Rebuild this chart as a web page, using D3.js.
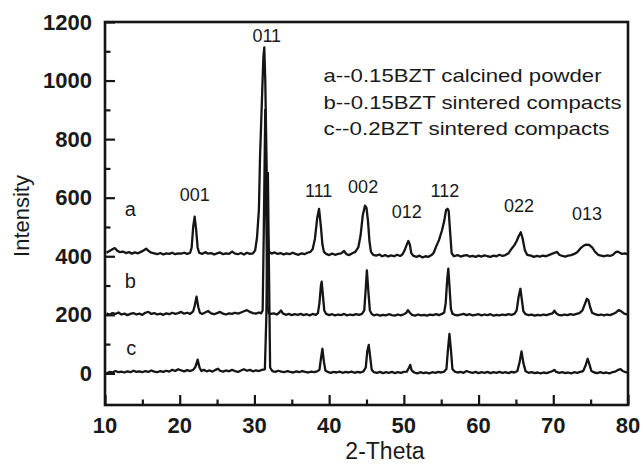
<!DOCTYPE html>
<html>
<head>
<meta charset="utf-8">
<script src="https://cdn.jsdelivr.net/npm/d3@7/dist/d3.min.js"></script>
<style>
  html, body { margin: 0; padding: 0; background: #fff; }
  svg { display: block; }
  text { font-family: "Liberation Sans", Arial, Helvetica, sans-serif; fill: #1a1a1a; }
</style>
</head>
<body>
<svg id="chart" width="643" height="465"></svg>
<script>
// ---------- data ----------
const xTicksMajor = [10, 20, 30, 40, 50, 60, 70, 80];
const xTicksMinor = [15, 25, 35, 45, 55, 65, 75];
const yTicksMajor = [0, 200, 400, 600, 800, 1000, 1200];
const yTicksMinor = [100, 300, 500, 700, 900, 1100];

// curve a: 0.15BZT calcined powder  [2-theta, intensity]
const seriesA = [[10.2,412],[10.6,418],[11.0,424],[11.3,428],[11.6,420],[12.0,414],[12.4,416],[12.8,411],[13.2,414],[13.6,409],[14.0,413],[14.4,410],[14.8,415],[15.2,420],[15.5,426],[15.8,419],[16.2,412],[16.6,410],[17.0,407],[17.4,411],[17.8,406],[18.2,410],[18.6,408],[19.0,412],[19.4,407],[19.8,410],[20.2,409],[20.6,412],[21.0,408],[21.4,412],[21.6,430],[21.8,500],[22.0,535],[22.2,490],[22.4,430],[22.6,412],[23.0,408],[23.4,414],[23.8,409],[24.2,411],[24.6,406],[25.0,410],[25.4,413],[25.8,407],[26.2,410],[26.6,408],[27.0,416],[27.4,409],[27.8,407],[28.2,411],[28.6,406],[29.0,412],[29.4,408],[29.8,410],[30.1,420],[30.35,465],[30.6,560],[30.75,740],[31.0,930],[31.2,1080],[31.32,1113],[31.45,1000],[31.6,760],[31.75,500],[31.9,415],[32.3,409],[32.7,413],[33.1,408],[33.5,411],[33.9,406],[34.3,410],[34.7,407],[35.1,412],[35.5,408],[35.9,405],[36.3,410],[36.7,407],[37.1,412],[37.5,415],[37.8,425],[38.1,460],[38.4,530],[38.65,562],[38.9,500],[39.1,440],[39.3,415],[39.6,408],[40.0,404],[40.4,409],[40.8,405],[41.2,408],[41.6,410],[42.0,418],[42.3,407],[42.7,404],[43.1,410],[43.5,415],[43.9,430],[44.2,470],[44.5,540],[44.8,573],[45.0,565],[45.2,520],[45.4,450],[45.6,415],[45.9,405],[46.3,402],[46.7,406],[47.1,400],[47.5,404],[47.9,399],[48.3,403],[48.7,400],[49.1,405],[49.5,401],[49.8,406],[50.1,420],[50.35,437],[50.6,452],[50.8,440],[51.0,410],[51.3,401],[51.7,398],[52.1,402],[52.5,396],[52.9,400],[53.3,398],[53.7,404],[54.0,412],[54.3,432],[54.7,455],[55.1,488],[55.4,520],[55.65,558],[55.85,562],[56.0,555],[56.2,480],[56.4,410],[56.7,400],[57.2,404],[57.6,399],[58.0,402],[58.4,404],[58.8,399],[59.2,401],[59.6,398],[60.0,402],[60.4,399],[60.8,403],[61.2,400],[61.6,398],[62.0,402],[62.4,400],[62.8,405],[63.2,401],[63.6,404],[64.0,410],[64.4,425],[64.8,438],[65.1,452],[65.4,470],[65.65,482],[65.9,460],[66.2,420],[66.5,405],[67.0,402],[67.4,398],[67.8,401],[68.2,399],[68.6,402],[69.0,400],[69.4,404],[69.8,408],[70.2,412],[70.5,415],[70.8,405],[71.2,401],[71.6,399],[72.0,402],[72.4,404],[72.8,408],[73.2,414],[73.6,426],[74.0,435],[74.4,440],[74.8,439],[75.2,430],[75.6,415],[76.0,405],[76.4,402],[76.8,400],[77.2,403],[77.6,401],[78.0,405],[78.3,413],[78.6,416],[78.9,412],[79.2,408],[79.6,410],[80.0,406]];

// curve b: 0.15BZT sintered compacts
const seriesB = [[10.2,205],[10.6,200],[11.0,206],[11.4,203],[11.8,208],[12.2,201],[12.6,204],[13.0,199],[13.4,203],[13.8,206],[14.2,201],[14.6,204],[15.0,200],[15.4,207],[15.8,210],[16.2,203],[16.6,206],[17.0,201],[17.4,204],[17.8,200],[18.2,205],[18.6,202],[19.0,207],[19.4,203],[19.8,206],[20.2,210],[20.6,204],[21.0,207],[21.4,203],[21.8,212],[22.0,230],[22.25,262],[22.5,225],[22.7,207],[23.0,203],[23.4,208],[23.8,213],[24.2,205],[24.6,202],[25.0,206],[25.4,210],[25.8,204],[26.2,201],[26.6,205],[27.0,203],[27.4,207],[27.8,204],[28.2,208],[28.6,212],[29.0,216],[29.4,210],[29.8,206],[30.2,204],[30.6,208],[30.9,205],[31.1,215],[31.25,480],[31.45,900],[31.6,520],[31.75,230],[31.9,206],[32.2,203],[32.6,205],[33.0,201],[33.3,207],[33.55,215],[33.8,205],[34.2,200],[34.6,203],[35.0,199],[35.4,202],[35.8,200],[36.2,203],[36.6,199],[37.0,202],[37.4,198],[37.8,203],[38.2,200],[38.5,206],[38.7,240],[38.9,300],[39.0,313],[39.15,270],[39.35,215],[39.6,203],[40.0,199],[40.4,202],[40.8,198],[41.2,201],[41.6,199],[42.0,203],[42.4,198],[42.8,201],[43.2,199],[43.6,202],[44.0,200],[44.4,203],[44.7,215],[44.9,290],[45.05,352],[45.25,280],[45.45,215],[45.7,203],[46.0,198],[46.4,201],[46.8,197],[47.2,200],[47.6,198],[48.0,202],[48.4,199],[48.8,197],[49.2,201],[49.6,198],[50.0,202],[50.3,206],[50.55,216],[50.8,207],[51.1,200],[51.5,197],[51.9,201],[52.3,198],[52.7,200],[53.1,197],[53.5,201],[53.9,199],[54.3,202],[54.7,199],[55.1,203],[55.4,208],[55.6,240],[55.8,320],[55.95,358],[56.1,300],[56.3,220],[56.5,204],[56.8,200],[57.2,198],[57.6,201],[58.0,203],[58.4,199],[58.8,202],[59.2,198],[59.6,200],[60.0,202],[60.4,198],[60.8,201],[61.2,199],[61.6,202],[62.0,197],[62.4,200],[62.8,198],[63.2,201],[63.6,199],[64.0,202],[64.4,200],[64.8,203],[65.1,215],[65.35,260],[65.6,289],[65.8,250],[66.0,212],[66.3,202],[66.7,199],[67.1,201],[67.5,197],[67.9,200],[68.3,198],[68.7,201],[69.1,199],[69.5,202],[69.9,205],[70.15,214],[70.4,205],[70.7,200],[71.1,198],[71.5,201],[71.9,199],[72.3,202],[72.7,200],[73.1,203],[73.5,206],[73.9,215],[74.2,235],[74.5,255],[74.7,250],[74.95,225],[75.2,207],[75.6,202],[76.0,199],[76.4,201],[76.8,198],[77.2,201],[77.6,199],[78.0,203],[78.4,208],[78.75,216],[79.1,212],[79.5,204],[80.0,201]];

// curve c: 0.2BZT sintered compacts
const seriesC = [[10.2,0],[10.6,5],[11.0,3],[11.4,8],[11.8,4],[12.2,6],[12.6,3],[13.0,7],[13.4,4],[13.8,9],[14.2,5],[14.6,7],[15.0,4],[15.4,8],[15.8,5],[16.2,10],[16.6,6],[17.0,4],[17.4,8],[17.8,5],[18.2,9],[18.6,6],[19.0,12],[19.4,8],[19.8,14],[20.2,10],[20.6,7],[21.0,11],[21.4,8],[21.8,12],[22.1,22],[22.4,47],[22.65,20],[22.9,8],[23.2,12],[23.6,7],[24.0,10],[24.4,6],[24.8,12],[25.1,16],[25.4,9],[25.8,6],[26.2,10],[26.6,7],[27.0,12],[27.4,8],[27.8,5],[28.2,10],[28.6,14],[29.0,9],[29.4,12],[29.8,7],[30.2,10],[30.6,8],[31.0,12],[31.4,14],[31.6,200],[31.8,685],[31.95,350],[32.1,20],[32.4,8],[32.8,5],[33.2,9],[33.6,6],[34.0,4],[34.4,8],[34.8,5],[35.2,3],[35.6,7],[36.0,4],[36.4,8],[36.8,5],[37.2,3],[37.6,6],[38.0,4],[38.4,7],[38.7,12],[38.9,50],[39.1,84],[39.3,40],[39.5,10],[39.8,5],[40.2,2],[40.6,5],[41.0,3],[41.4,6],[41.8,2],[42.2,5],[42.6,3],[43.0,6],[43.4,2],[43.8,5],[44.2,3],[44.6,7],[44.9,20],[45.1,75],[45.3,97],[45.5,55],[45.7,12],[46.0,4],[46.4,2],[46.8,5],[47.2,1],[47.6,4],[48.0,2],[48.4,5],[48.8,1],[49.2,4],[49.6,2],[50.0,5],[50.4,6],[50.7,20],[50.85,29],[51.05,10],[51.4,3],[51.8,0],[52.2,4],[52.6,1],[53.0,3],[53.4,0],[53.8,4],[54.2,2],[54.6,5],[55.0,3],[55.4,6],[55.7,15],[55.9,80],[56.1,135],[56.3,80],[56.5,15],[56.8,6],[57.2,3],[57.6,5],[58.0,2],[58.4,8],[58.8,4],[59.2,2],[59.6,5],[60.0,1],[60.4,4],[60.8,2],[61.2,5],[61.6,1],[62.0,4],[62.4,2],[62.8,5],[63.2,2],[63.6,4],[64.0,1],[64.4,5],[64.8,3],[65.2,8],[65.5,40],[65.75,75],[66.0,35],[66.3,7],[66.7,2],[67.1,4],[67.5,1],[67.9,3],[68.3,0],[68.7,3],[69.1,1],[69.5,4],[69.9,8],[70.15,12],[70.4,5],[70.8,2],[71.2,4],[71.6,1],[72.0,3],[72.4,0],[72.8,4],[73.2,2],[73.6,5],[74.0,8],[74.3,25],[74.6,50],[74.85,30],[75.1,8],[75.5,3],[75.9,1],[76.3,4],[76.7,1],[77.1,3],[77.5,0],[77.9,4],[78.3,6],[78.7,12],[79.0,15],[79.3,8],[79.7,4],[80.0,2]];

// peak (hkl) labels, anchored in data units [2-theta, intensity]
const peakLabels = ["001", "011", "111", "002", "012", "112", "022", "013"];
const peakLabelTheta = [22.0, 31.65, 38.6, 44.55, 50.4, 55.5, 65.4, 74.5];
const peakLabelInt = [590, 1131, 602, 617, 530, 603, 552, 524];

// curve letters
const curveLetters = ["a", "b", "c"];
const curveLetterTheta = [13.4, 13.4, 13.5];
const curveLetterInt = [539, 291, 63];

// legend lines
const legendLines = ["a--0.15BZT calcined powder", "b--0.15BZT sintered compacts", "c--0.2BZT sintered compacts"];
const legendTheta = 39.25;
const legendInt = [996, 903, 814];

const xLabel = "2-Theta";
const yLabel = "Intensity";

// ---------- layout ----------
const W = 643, H = 465;
const L = 105, R = 628, T = 22, B = 405;
const ink = "#151515";

const svg = d3.select("#chart");
const x = d3.scaleLinear().domain([10, 80]).range([L, R]);
const y = d3.scaleLinear().domain([-108, 1200]).range([B, T]);

// curves
const line = d3.line().x(d => x(d[0])).y(d => y(d[1])).curve(d3.curveLinear);
[seriesC, seriesB, seriesA].forEach(s => {
  svg.append("path")
    .datum(s)
    .attr("d", line)
    .attr("fill", "none")
    .attr("stroke", ink)
    .attr("stroke-width", 2.3)
    .attr("stroke-linejoin", "round");
});

// axes (ticks inward)
const xAxis = d3.axisBottom(x).tickValues(xTicksMajor).tickSizeInner(-10).tickSizeOuter(0).tickPadding(0).tickFormat(d3.format("d"));
const gx = svg.append("g").attr("transform", `translate(0,${B})`).call(xAxis);
gx.selectAll("text").remove();
const gxm = svg.append("g").attr("transform", `translate(0,${B})`)
  .call(d3.axisBottom(x).tickValues(xTicksMinor).tickSizeInner(-5.5).tickSizeOuter(0).tickFormat(""));
const yAxis = d3.axisLeft(y).tickValues(yTicksMajor).tickSizeInner(-10).tickSizeOuter(0).tickFormat(d3.format("d"));
const gy = svg.append("g").attr("transform", `translate(${L},0)`).call(yAxis);
gy.selectAll("text").remove();
const gym = svg.append("g").attr("transform", `translate(${L},0)`)
  .call(d3.axisLeft(y).tickValues(yTicksMinor).tickSizeInner(-5.5).tickSizeOuter(0).tickFormat(""));
[gx, gxm, gy, gym].forEach(g => {
  g.select(".domain").remove();
  g.selectAll(".tick line").attr("stroke", ink).attr("stroke-width", 2.2);
});

// frame
svg.append("rect")
  .attr("x", L).attr("y", T).attr("width", R - L).attr("height", B - T)
  .attr("fill", "none").attr("stroke", ink).attr("stroke-width", 2.6);

// tick labels
svg.append("g").selectAll("text").data(xTicksMajor).join("text")
  .attr("x", d => x(d)).attr("y", B + 28)
  .attr("text-anchor", "middle")
  .attr("font-size", 22).attr("font-weight", "bold")
  .text(d => d);
svg.append("g").selectAll("text").data(yTicksMajor).join("text")
  .attr("x", L - 13).attr("y", d => y(d) + 7.5)
  .attr("text-anchor", "end")
  .attr("font-size", 22).attr("font-weight", "bold")
  .text(d => d);

// axis titles
svg.append("text")
  .attr("x", 385).attr("y", 459)
  .attr("text-anchor", "middle")
  .attr("font-size", 23)
  .text(xLabel);
svg.append("text")
  .attr("transform", `translate(29,216) rotate(-90)`)
  .attr("text-anchor", "middle")
  .attr("font-size", 22)
  .text(yLabel);

// hkl labels
svg.append("g").selectAll("text").data(peakLabels).join("text")
  .attr("x", (d, i) => x(peakLabelTheta[i]))
  .attr("y", (d, i) => y(peakLabelInt[i]))
  .attr("text-anchor", "middle")
  .attr("font-size", 18)
  .text(d => d);

// curve letters
svg.append("g").selectAll("text").data(curveLetters).join("text")
  .attr("x", (d, i) => x(curveLetterTheta[i]))
  .attr("y", (d, i) => y(curveLetterInt[i]))
  .attr("text-anchor", "middle")
  .attr("font-size", 20)
  .text(d => d);

// legend text
const legendWidths = [278, 298, 286];
svg.append("g").selectAll("text").data(legendLines).join("text")
  .attr("x", x(legendTheta))
  .attr("y", (d, i) => y(legendInt[i]))
  .attr("font-size", 19)
  .attr("textLength", (d, i) => legendWidths[i])
  .attr("lengthAdjust", "spacingAndGlyphs")
  .text(d => d);
</script>
</body>
</html>
